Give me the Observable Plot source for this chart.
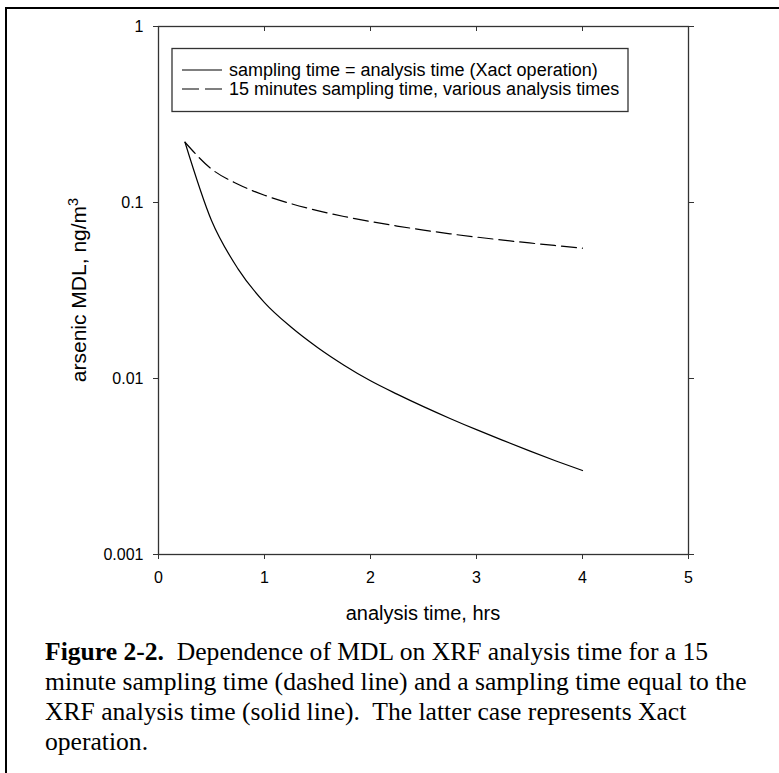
<!DOCTYPE html>
<html><head><meta charset="utf-8">
<script src="https://cdn.jsdelivr.net/npm/d3@7"></script>
<script src="https://cdn.jsdelivr.net/npm/@observablehq/plot@0.6"></script>
<style>
html,body{margin:0;padding:0;background:#fff;}
#page{position:relative;width:779px;height:773px;overflow:hidden;background:#fff;}
#border{position:absolute;left:5px;top:7px;width:900px;height:900px;border-left:2px solid #000;border-top:2px solid #000;}
#chart{position:absolute;left:0;top:0;}
#legend{position:absolute;left:0;top:0;}
#caption{position:absolute;left:45px;top:637px;font-family:"Liberation Serif","Times New Roman",serif;font-size:25.6px;line-height:30px;white-space:nowrap;color:#000;}
</style></head>
<body>
<div id="page"><div id="border"></div><div id="chart"></div><svg id="legend" width="779" height="140"></svg><div id="caption"></div></div>
<script>
// ---- data ----
const times = [0.25, 0.5, 0.75, 1, 1.25, 1.5, 1.75, 2, 2.25, 2.5, 2.75, 3, 3.25, 3.5, 3.75, 4];
const solidMDL = [0.22, 0.079, 0.042, 0.027, 0.0196, 0.0150, 0.0119, 0.0097, 0.00815, 0.00692, 0.00593, 0.00512, 0.00445, 0.00388, 0.0034, 0.0030];
const dashedMDL = [0.22, 0.155, 0.127, 0.110, 0.0985, 0.090, 0.0833, 0.078, 0.0735, 0.0697, 0.0664, 0.0636, 0.0611, 0.0589, 0.0569, 0.055];
const seriesNames = ["sampling time = analysis time (Xact operation)", "15 minutes sampling time, various analysis times"];
const xTicks = [0, 1, 2, 3, 4, 5];
const xTickLabels = ["0", "1", "2", "3", "4", "5"];
const yTicks = [0.001, 0.01, 0.1, 1];
const yTickLabels = ["0.001", "0.01", "0.1", "1"];
const xLabel = "analysis time, hrs";
const yLabel = "arsenic MDL, ng/m";
const yLabelSup = "3";
const captionBold = "Figure 2-2.";
const captionLines = [
  "\u00a0 Dependence of MDL on XRF analysis time for a 15",
  "minute sampling time (dashed line) and a sampling time equal to the",
  "XRF analysis time (solid line).\u00a0 The latter case represents Xact",
  "operation."
];

const rows = [];
times.forEach((t, i) => rows.push({series: seriesNames[0], t, v: solidMDL[i]}));
times.forEach((t, i) => rows.push({series: seriesNames[1], t, v: dashedMDL[i]}));
const solid = rows.filter(d => d.series === seriesNames[0]);
const dashed = rows.filter(d => d.series === seriesNames[1]);

const H = 624, MT = 26, MB = 70;
const chart = Plot.plot({
  width: 779, height: H,
  marginLeft: 158, marginRight: 91, marginTop: MT, marginBottom: MB,
  style: {fontFamily: "'Liberation Sans', Arial, sans-serif", fontSize: "16px", background: "transparent", color: "#000", overflow: "visible"},
  x: {domain: [0, 5]},
  y: {type: "log", domain: [0.001, 1]},
  marks: [
    Plot.axisX({anchor: "bottom", ticks: xTicks, tickSize: 5, tickPadding: 12, label: null,
      tickFormat: d => xTickLabels[xTicks.indexOf(d)], stroke: "#333"}),
    Plot.tickX(xTicks, {x: d => d, insetBottom: H - MT - MB - 5, stroke: "#333", strokeWidth: 1}),
    Plot.axisY({anchor: "left", ticks: yTicks, tickSize: 5, tickPadding: 10, label: null,
      tickFormat: d => yTickLabels[yTicks.indexOf(d)], stroke: "#333"}),
    Plot.axisY({anchor: "right", ticks: yTicks, tickSize: 5, label: null, tickFormat: () => "", stroke: "#333"}),
    Plot.frame({stroke: "#333", strokeWidth: 1.3}),
    Plot.line(solid, {x: "t", y: "v", stroke: "#000", strokeWidth: 1.2, curve: "monotone-x"}),
    Plot.line(dashed, {x: "t", y: "v", stroke: "#000", strokeWidth: 1.2, strokeDasharray: "15,6", curve: "monotone-x"})
  ]
});
document.getElementById("chart").appendChild(chart);

const svg = d3.select(chart);
const xr = chart.scale("x").range, yr = chart.scale("y").range;
svg.append("text")
  .attr("x", (xr[0] + xr[1]) / 2).attr("y", 620)
  .attr("text-anchor", "middle").attr("fill", "#000")
  .style("font-size", "20px").text(xLabel);
const yl = svg.append("text")
  .attr("transform", `translate(86,${(yr[0] + yr[1]) / 2}) rotate(-90)`)
  .attr("text-anchor", "middle").attr("fill", "#000")
  .style("font-size", "21px");
yl.append("tspan").text(yLabel);
yl.append("tspan").attr("dy", "-0.55em").style("font-size", "14.5px").text(yLabelSup);

// legend
const lg = d3.select("#legend").style("font-family", "'Liberation Sans', Arial, sans-serif");
lg.append("rect").attr("x", 172).attr("y", 48.5).attr("width", 456).attr("height", 63)
  .attr("fill", "#fff").attr("stroke", "#333").attr("stroke-width", 1.3);
const rowY = [70, 89];
seriesNames.forEach((name, i) => {
  lg.append("line").attr("x1", 182).attr("x2", 222).attr("y1", rowY[i]).attr("y2", rowY[i])
    .attr("stroke", "#000").attr("stroke-width", 1.2)
    .attr("stroke-dasharray", i === 1 ? "17,6" : null);
  lg.append("text").attr("x", 229).attr("y", rowY[i]).attr("dy", "0.35em")
    .style("font-size", "18px").attr("fill", "#000").text(name);
});

// caption
const cap = d3.select("#caption");
cap.append("b").text(captionBold);
captionLines.forEach((line, i) => {
  if (i > 0) cap.append("br");
  cap.append("span").text(line);
});
</script>
</body></html>
